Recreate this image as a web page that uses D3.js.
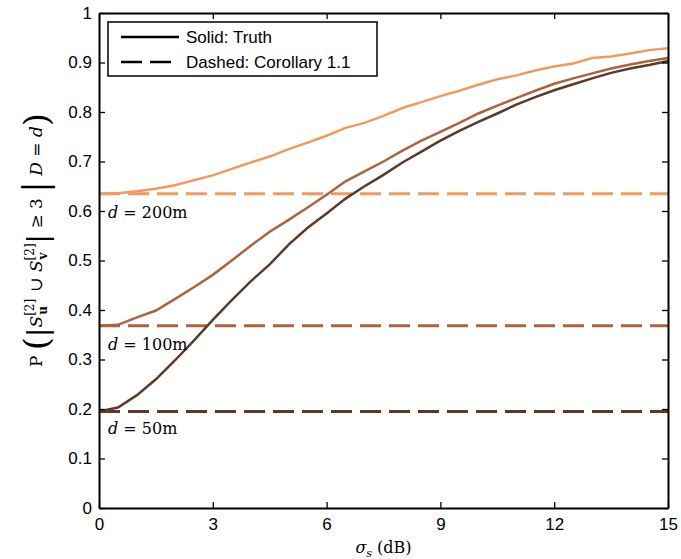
<!DOCTYPE html>
<html>
<head>
<meta charset="utf-8">
<script src="https://cdn.jsdelivr.net/npm/d3@7"></script>
<style>
  body { margin: 0; background: #fff; }
  text { fill: #000; }
</style>
</head>
<body>
<div id="chart"></div>
<script>
// données
const sigma = [0, 0.5, 1, 1.5, 2, 2.5, 3, 3.5, 4, 4.5, 5, 5.5, 6, 6.5, 7, 7.5,
  8, 8.5, 9, 9.5, 10, 10.5, 11, 11.5, 12, 12.5, 13, 13.5, 14, 14.5, 15]
const truth200 = [0.635, 0.636, 0.640, 0.645, 0.652, 0.662, 0.672, 0.685, 0.698, 0.710, 0.725,
  0.738, 0.752, 0.768, 0.778, 0.792, 0.808, 0.820, 0.832, 0.843, 0.855, 0.866, 0.874, 0.884,
  0.892, 0.898, 0.909, 0.912, 0.918, 0.925, 0.929]
const truth100 = [0.368, 0.370, 0.385, 0.399, 0.422, 0.446, 0.471, 0.500, 0.530, 0.558, 0.582,
  0.607, 0.633, 0.660, 0.680, 0.700, 0.722, 0.742, 0.760, 0.778, 0.797, 0.813, 0.828, 0.843,
  0.857, 0.868, 0.878, 0.888, 0.896, 0.903, 0.909]
const truth50 = [0.195, 0.203, 0.228, 0.260, 0.298, 0.338, 0.380, 0.420, 0.458, 0.492, 0.532,
  0.566, 0.595, 0.625, 0.650, 0.673, 0.698, 0.720, 0.742, 0.762, 0.780, 0.797, 0.815, 0.830,
  0.844, 0.856, 0.868, 0.879, 0.888, 0.895, 0.903]
const corollary = [0.635, 0.368, 0.195]
const distLabels = ["200m", "100m", "50m"]
const colors = ["#f29a5e", "#a8653f", "#5b3b28"]
const xTicks = [0, 3, 6, 9, 12, 15]
const yTicks = [0, 0.1, 0.2, 0.3, 0.4, 0.5, 0.6, 0.7, 0.8, 0.9, 1]

const width = 681, height = 559
const margin = {top: 13, right: 13, bottom: 51, left: 99}
const w = width - margin.left - margin.right
const h = height - margin.top - margin.bottom

const svg = d3.select("#chart")
  .append("svg")
    .attr("width", width)
    .attr("height", height)

const g = svg.append("g")
  .attr("transform", `translate(${margin.left},${margin.top})`)

const x = d3.scaleLinear().domain([0, 15]).range([0, w])
const y = d3.scaleLinear().domain([0, 1]).range([h, 0])

// courbes
const series = [truth200, truth100, truth50]
const line = d3.line()
  .x((d, i) => x(sigma[i]))
  .y(d => y(d))

series.forEach((s, k) => {
  g.append("line")
    .attr("x1", x(0)).attr("x2", x(15))
    .attr("y1", y(corollary[k])).attr("y2", y(corollary[k]))
    .attr("stroke", colors[k])
    .attr("stroke-width", 3)
    .attr("stroke-dasharray", "21,8")
  g.append("path")
    .datum(s)
    .attr("d", line)
    .attr("fill", "none")
    .attr("stroke", colors[k])
    .attr("stroke-width", 2.5)
})

// étiquettes d = ...
const labelShift = [24, 24, 23]
corollary.forEach((c, k) => {
  const t = g.append("text")
    .attr("x", 9)
    .attr("y", y(c) + labelShift[k])
    .style("font-family", "'DejaVu Serif', serif")
    .style("font-size", "16px")
  t.append("tspan").style("font-style", "italic").text("d")
  t.append("tspan").text(" = " + distLabels[k])
})

// axes (ticks vers l'intérieur, boîte complète)
const tickFont = "'Liberation Sans', Arial, sans-serif"
const axB = g.append("g").attr("transform", `translate(0,${h})`)
  .call(d3.axisBottom(x).tickValues(xTicks).tickSizeInner(-6).tickSizeOuter(0).tickPadding(10))
const axL = g.append("g")
  .call(d3.axisLeft(y).tickValues(yTicks).tickFormat(d3.format("")).tickSizeInner(-6).tickSizeOuter(0).tickPadding(7))
const axT = g.append("g")
  .call(d3.axisTop(x).tickValues(xTicks).tickSizeInner(-6).tickSizeOuter(0).tickFormat(""))
const axR = g.append("g").attr("transform", `translate(${w},0)`)
  .call(d3.axisRight(y).tickValues(yTicks).tickSizeInner(-6).tickSizeOuter(0).tickFormat(""))

;[axB, axL, axT, axR].forEach(a => {
  a.select(".domain").attr("stroke", "#000").attr("stroke-width", 2)
  a.selectAll(".tick line").attr("stroke", "#000").attr("stroke-width", 1.3)
  a.selectAll("text").style("font-family", tickFont).style("font-size", "17px").attr("fill", "#000")
})
axB.selectAll("text").attr("dy", "0.71em")

// légende
const leg = g.append("g").attr("transform", "translate(9,9)")
leg.append("rect")
  .attr("width", 269).attr("height", 54)
  .attr("fill", "#fff").attr("stroke", "#000").attr("stroke-width", 1.5)
const legItems = [["Solid: Truth", null], ["Dashed: Corollary 1.1", "21,8"]]
legItems.forEach((it, i) => {
  const ly = 15 + i * 25
  leg.append("line")
    .attr("x1", 13).attr("x2", 71).attr("y1", ly).attr("y2", ly)
    .attr("stroke", "#000").attr("stroke-width", 2.5)
    .attr("stroke-dasharray", it[1])
  leg.append("text")
    .attr("x", 78).attr("y", ly + 6)
    .style("font-family", tickFont).style("font-size", "17px")
    .text(it[0])
})

// titre axe x
const xl = svg.append("text")
  .attr("x", margin.left + x(7.5))
  .attr("y", 553)
  .attr("text-anchor", "middle")
  .style("font-family", "'DejaVu Serif', serif")
  .style("font-size", "16px")
xl.append("tspan").style("font-style", "italic").text("σ")
xl.append("tspan").attr("dy", 4).style("font-size", "11px").style("font-style", "italic").text("s")
xl.append("tspan").attr("dy", -4).text("  (dB)")

// titre axe y
const yl = svg.append("text")
  .attr("transform", "translate(42,240) rotate(-90)")
  .attr("text-anchor", "middle")
  .style("font-family", "'DejaVu Serif', serif")
  .style("font-size", "17px")
yl.append("tspan").text("P ")
yl.append("tspan").style("font-size", "34px").attr("dy", 6).text("(")
yl.append("tspan").style("font-size", "28px").attr("dy", -1).text("|")
yl.append("tspan").attr("dy", -5).style("font-style", "italic").text("S")
yl.append("tspan").attr("dy", -8).style("font-size", "12px").text("[2]")
yl.append("tspan").attr("dx", -16).attr("dy", 13).style("font-size", "12px").style("font-weight", "bold").text("u")
yl.append("tspan").attr("dx", 9).attr("dy", -5).text(" ∪ ")
yl.append("tspan").style("font-style", "italic").text("S")
yl.append("tspan").attr("dy", -8).style("font-size", "12px").text("[2]")
yl.append("tspan").attr("dx", -16).attr("dy", 13).style("font-size", "12px").style("font-weight", "bold").text("v")
yl.append("tspan").attr("dx", 9).attr("dy", 0).style("font-size", "28px").text("|")
yl.append("tspan").attr("dy", -5).text(" ≥ 3 ")
yl.append("tspan").attr("dy", 5).style("font-size", "34px").text("|")
yl.append("tspan").attr("dy", -5).style("font-style", "italic").text(" D")
yl.append("tspan").text(" = ")
yl.append("tspan").style("font-style", "italic").text("d")
yl.append("tspan").style("font-size", "34px").attr("dy", 6).text(")")
</script>
</body>
</html>
